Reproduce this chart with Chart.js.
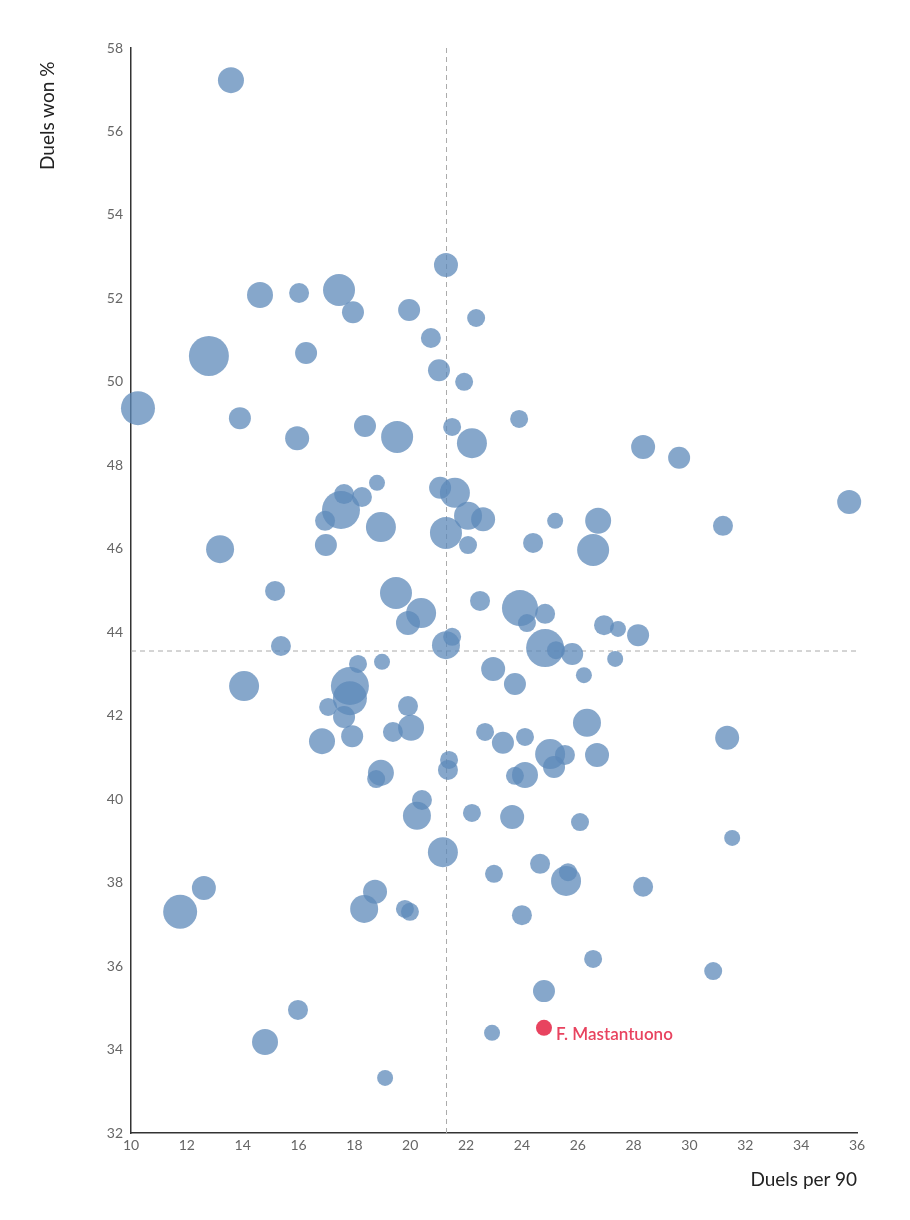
<!DOCTYPE html>
<html><head><meta charset="utf-8">
<script src="https://cdn.jsdelivr.net/npm/chart.js@4.4.1/dist/chart.umd.min.js"></script>
<style>
html,body{margin:0;padding:0;background:#fff;}
#wrap{position:relative;width:910px;height:1220px;}
canvas{position:absolute;left:0;top:0;}
.t{position:absolute;font-family:Lato,"Noto Sans",sans-serif;font-size:19px;color:#222;}
</style></head><body>
<div id="wrap"><canvas id="c" width="910" height="1220"></canvas>
<div class="t" style="left:35px;top:170px;transform:rotate(-90deg);transform-origin:left top;white-space:nowrap;">Duels won %</div>
<div class="t" style="right:53px;top:1167px;">Duels per 90</div>
</div>
<script>
const duelsPer90 = [13.58,21.28,14.62,16.02,17.45,17.95,19.96,22.36,20.74,12.79,16.27,21.03,21.93,10.25,13.90,23.90,15.95,18.38,19.53,21.50,22.21,28.34,29.63,35.72,18.81,17.63,17.52,18.27,16.95,21.07,21.60,18.95,22.07,22.61,21.28,22.07,16.98,25.19,24.40,26.73,26.55,31.20,13.19,15.16,19.49,20.39,19.92,22.50,23.93,24.83,24.18,26.94,27.44,28.16,21.50,21.28,24.83,25.22,25.80,26.22,27.34,15.37,18.13,18.99,14.05,17.84,17.84,22.97,23.75,17.06,17.63,19.92,17.92,16.84,19.38,20.03,22.68,23.32,24.11,26.33,31.35,21.39,21.35,25.01,25.54,25.15,26.69,18.95,18.78,23.75,24.11,20.42,20.24,22.21,23.65,26.08,31.53,21.17,23.00,24.65,25.65,25.58,12.61,11.76,18.74,18.35,19.81,19.99,24.00,28.34,26.55,30.85,24.79,15.98,14.80,22.93,19.10];
const duelsWonPct = [57.23,52.80,52.08,52.13,52.20,51.67,51.72,51.53,51.05,50.62,50.69,50.28,50.00,49.37,49.13,49.11,48.65,48.94,48.68,48.92,48.53,48.44,48.18,47.12,47.58,47.31,46.93,47.24,46.67,47.46,47.34,46.52,46.79,46.71,46.38,46.09,46.09,46.67,46.14,46.67,45.97,46.55,45.99,44.99,44.94,44.46,44.22,44.75,44.58,44.44,44.22,44.17,44.08,43.93,43.89,43.69,43.62,43.57,43.48,42.97,43.36,43.67,43.24,43.29,42.71,42.71,42.42,43.12,42.76,42.21,41.97,42.23,41.51,41.39,41.61,41.71,41.61,41.35,41.49,41.83,41.47,40.94,40.70,41.08,41.06,40.77,41.06,40.63,40.48,40.56,40.58,39.98,39.60,39.67,39.57,39.45,39.07,38.73,38.21,38.45,38.25,38.04,37.87,37.30,37.78,37.37,37.37,37.30,37.22,37.90,36.17,35.88,35.40,34.95,34.18,34.40,33.32];
const bubbleSize = [13,12,13,10,16,11,11,9,10,20,11,11,9,17,11,9,12,11,16,9,15,12,11,12,8,10,19,10,10,11,15,15,14,12,16,9,11,8,10,13,16,10,14,10,16,15,12,10,18,10,9,10,8,11,9,14,19,9,11,8,8,10,9,8,15,19,17,12,11,9,11,10,11,13,10,13,9,11,9,14,12,9,10,15,10,11,12,13,9,9,13,10,14,9,12,9,8,15,9,10,9,15,12,17,12,14,9,9,10,10,9,9,11,10,13,8,8];
const highlightName = "F. Mastantuono";
const highlightX = [24.79];
const highlightY = [34.52];
const highlightSize = [8];
const meanX = 21.3;
const meanY = 43.55;
const xTicks = [10,12,14,16,18,20,22,24,26,28,30,32,34,36];
const yTicks = [32,34,36,38,40,42,44,46,48,50,52,54,56,58];

const font = {family:'Lato, "Noto Sans", sans-serif', size:14};
const refPlugin = {
  id:'ref',
  beforeDatasetsDraw(chart){
    const {ctx, chartArea:a, scales:{x,y}} = chart;
    ctx.save(); ctx.strokeStyle='#aaa'; ctx.lineWidth=1; ctx.setLineDash([5,4]);
    const px=x.getPixelForValue(meanX), py=y.getPixelForValue(meanY);
    ctx.beginPath(); ctx.moveTo(px,a.top); ctx.lineTo(px,a.bottom); ctx.stroke();
    ctx.beginPath(); ctx.moveTo(a.left,py); ctx.lineTo(a.right,py); ctx.stroke();
    ctx.restore();
  },
  afterDatasetsDraw(chart){
    const {ctx, scales:{x,y}} = chart;
    ctx.save(); ctx.fillStyle='#e8435f'; ctx.font='600 17px Lato, "Noto Sans", sans-serif';
    ctx.textBaseline='middle';
    ctx.fillText(highlightName, x.getPixelForValue(highlightX[0])+12, y.getPixelForValue(highlightY[0])+7);
    ctx.restore();
  }
};
new Chart(document.getElementById('c'), {
  type:'bubble',
  data:{datasets:[
    {data:highlightX.map((v,i)=>({x:v,y:highlightY[i],r:highlightSize[i]})),backgroundColor:'#e8435f',borderWidth:0,clip:false},
    {data:duelsPer90.map((v,i)=>({x:v,y:duelsWonPct[i],r:bubbleSize[i]})),backgroundColor:'rgba(94,137,186,0.75)',borderWidth:0,clip:false}
  ]},
  options:{
    responsive:false, animation:false,
    layout:{padding:{top:48,right:53,left:0,bottom:0}},
    plugins:{legend:{display:false},tooltip:{enabled:false}},
    scales:{
      x:{type:'linear',min:10,max:36,afterBuildTicks:s=>{s.ticks=xTicks.map(v=>({value:v}));},
        afterFit:s=>{s.height=87;},
        grid:{display:false,drawTicks:true,tickLength:4,color:'#333'},border:{color:'#333',width:1.5},
        ticks:{color:'#666',font,padding:0}},
      y:{type:'linear',min:32,max:58,afterBuildTicks:s=>{s.ticks=yTicks.map(v=>({value:v}));},
        afterFit:s=>{s.width=131;},
        grid:{display:false,drawTicks:true,tickLength:4,color:'#333'},border:{color:'#333',width:1.5},
        ticks:{color:'#666',font,padding:4}}
    }
  },
  plugins:[refPlugin]
});
</script></body></html>
